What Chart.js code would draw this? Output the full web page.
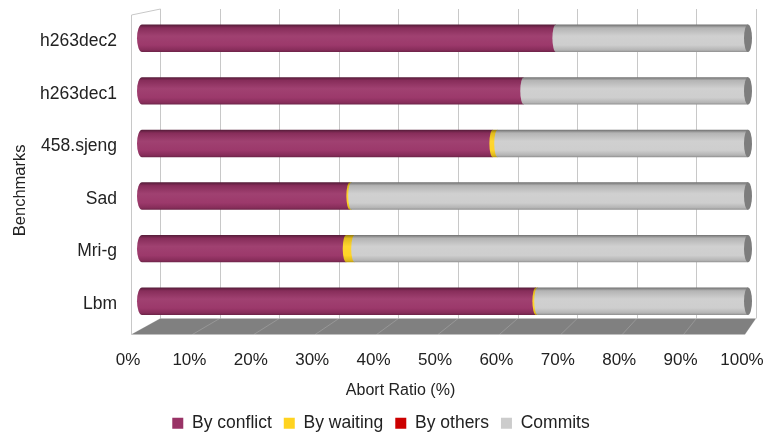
<!DOCTYPE html>
<html>
<head>
<meta charset="utf-8">
<script src="https://cdn.jsdelivr.net/npm/chart.js@4/dist/chart.umd.min.js"></script>
<style>
  html, body { margin: 0; padding: 0; background: #fff; }
  #wrap { width: 767px; height: 432px; }
</style>
</head>
<body>
<div id="wrap"><canvas id="chart"></canvas></div>
<script>
// Benchmarks, top to bottom
const benchmarks = ['h263dec2', 'h263dec1', '458.sjeng', 'Sad', 'Mri-g', 'Lbm'];

// Share of transactions per outcome (%)
const byConflict = [68.3, 63.0, 57.9, 34.3, 33.7, 65.0];
const byWaiting  = [0.0, 0.0, 0.8, 0.3, 1.4, 0.3];
const byOthers   = [0.0, 0.0, 0.0, 0.0, 0.0, 0.0];
const commits    = [31.7, 37.0, 41.3, 65.4, 64.9, 34.7];

const percentTicks = [0, 10, 20, 30, 40, 50, 60, 70, 80, 90, 100];

const FONT = "'Liberation Sans', Arial, sans-serif";

// lighten (f > 0) or darken (f < 0) a hex colour
function shade(hex, f) {
    const n = parseInt(hex.slice(1), 16);
    let c = [(n >> 16) & 255, (n >> 8) & 255, n & 255];
    c = c.map(v => f < 0 ? Math.round(v * (1 + f)) : Math.round(v + (255 - v) * f));
    return `rgb(${c[0]},${c[1]},${c[2]})`;
}

// 3D box (back wall, left wall, floor) and cylinder bars
const cylinderPlugin = {
    id: 'cylinders',
    beforeDatasetsDraw(chart) {
        const ctx = chart.ctx;
        const ca = chart.chartArea;
        const frontY = ca.bottom + 7, backY = ca.bottom - 9;
        const frontL = ca.left + 3, frontR = ca.right - 17;
        const backL = ca.left + 32, backR = ca.right - 6;
        const front = v => frontL + (frontR - frontL) * v / 100;
        const back = v => backL + (backR - backL) * v / 100;

        ctx.save();
        // back wall grid
        ctx.strokeStyle = '#c8c8c8';
        ctx.lineWidth = 1;
        percentTicks.forEach(v => {
            const x = Math.round(back(v)) + 0.5;
            ctx.beginPath();
            ctx.moveTo(x, ca.top - 3);
            ctx.lineTo(x, backY);
            ctx.stroke();
        });
        // left wall
        ctx.beginPath();
        ctx.moveTo(frontL + 0.5, frontY);
        ctx.lineTo(frontL + 0.5, ca.top + 3);
        ctx.lineTo(backL + 0.5, ca.top - 3);
        ctx.stroke();

        // floor
        ctx.fillStyle = '#808080';
        ctx.beginPath();
        ctx.moveTo(frontL, frontY);
        ctx.lineTo(backL, backY);
        ctx.lineTo(backR, backY);
        ctx.lineTo(frontR, frontY);
        ctx.closePath();
        ctx.fill();
        ctx.strokeStyle = 'rgba(255,255,255,0.18)';
        percentTicks.forEach(v => {
            ctx.beginPath();
            ctx.moveTo(front(v), frontY);
            ctx.lineTo(back(v), backY);
            ctx.stroke();
        });

        // cylinders
        const metas = chart.data.datasets.map((d, i) => chart.getDatasetMeta(i));
        benchmarks.forEach((b, j) => {
            let last = null;
            metas.forEach((meta, i) => {
                const el = meta.data[j];
                const p = el.getProps(['x', 'y', 'base', 'height'], true);
                const left = Math.min(p.x, p.base), right = Math.max(p.x, p.base);
                if (right - left < 0.4) return;
                const ry = p.height / 2, top = p.y - ry;
                const rx = i === 0 ? 5 : 3.5;
                const col = chart.data.datasets[i].backgroundColor;
                const g = ctx.createLinearGradient(0, top, 0, top + p.height);
                g.addColorStop(0, shade(col, -0.45));
                g.addColorStop(0.12, shade(col, -0.12));
                g.addColorStop(0.42, shade(col, 0.07));
                g.addColorStop(0.75, shade(col, 0.03));
                g.addColorStop(0.93, shade(col, -0.12));
                g.addColorStop(1, shade(col, -0.3));
                ctx.fillStyle = g;
                ctx.beginPath();
                ctx.moveTo(right, top);
                ctx.lineTo(left, top);
                ctx.ellipse(left, p.y, rx, ry, 0, -Math.PI / 2, Math.PI / 2, true);
                ctx.lineTo(right, top + p.height);
                ctx.closePath();
                ctx.fill();
                last = { right, y: p.y, ry };
            });
            if (last) {
                // end face of the cylinder
                ctx.fillStyle = '#7d7d7d';
                ctx.beginPath();
                ctx.ellipse(last.right, last.y, 4, last.ry, 0, 0, Math.PI * 2);
                ctx.fill();
            }
        });
        ctx.restore();
        return false;
    }
};

const ctx = document.getElementById('chart');
new Chart(ctx, {
    type: 'bar',
    data: {
        labels: benchmarks,
        datasets: [
            { label: 'By conflict', data: byConflict, backgroundColor: '#993366', borderWidth: 0 },
            { label: 'By waiting', data: byWaiting, backgroundColor: '#ffd320', borderWidth: 0 },
            { label: 'By others', data: byOthers, backgroundColor: '#cc0000', borderWidth: 0 },
            { label: 'Commits', data: commits, backgroundColor: '#cccccc', borderWidth: 0 }
        ]
    },
    options: {
        indexAxis: 'y',
        responsive: true,
        maintainAspectRatio: false,
        animation: false,
        categoryPercentage: 1,
        barPercentage: 0.52,
        layout: { padding: { top: 12, right: 5, left: 0, bottom: -10 } },
        scales: {
            x: {
                stacked: true,
                display: false,
                min: -2.31,
                max: 102.31
            },
            x2: {
                type: 'linear',
                position: 'bottom',
                min: 0,
                max: 103.26,
                grid: { display: false, drawTicks: false },
                border: { display: false },
                afterBuildTicks: scale => { scale.ticks = percentTicks.map(v => ({ value: v })); },
                afterFit: scale => {
                    scale.height = 75;
                    scale.paddingLeft = 0;
                    scale.paddingRight = 0;
                },
                ticks: {
                    padding: 23,
                    color: '#222',
                    font: { family: FONT, size: 17 },
                    callback: v => v + '%'
                },
                title: {
                    display: true,
                    // trailing blanks move the title left of the axis centre
                    text: 'Abort Ratio (%)                    ',
                    color: '#222',
                    font: { family: FONT, size: 16 },
                    padding: { top: 6, bottom: 2 }
                }
            },
            y: {
                stacked: true,
                grid: { display: false, drawTicks: false },
                border: { display: false },
                afterFit: scale => {
                    scale.width = 128;
                    scale.paddingTop = 0;
                    scale.paddingBottom = 0;
                },
                ticks: {
                    padding: 11,
                    labelOffset: 3,
                    color: '#222',
                    font: { family: FONT, size: 17.5 }
                },
                title: {
                    display: true,
                    // trailing blanks push the rotated title a little lower
                    text: 'Benchmarks         ',
                    color: '#222',
                    font: { family: FONT, size: 16.5 },
                    padding: { top: 11, bottom: 0 }
                }
            }
        },
        plugins: {
            legend: {
                position: 'bottom',
                labels: {
                    boxWidth: 11,
                    boxHeight: 11,
                    padding: 12,
                    color: '#222',
                    font: { family: FONT, size: 17.5 }
                }
            },
            tooltip: { enabled: false }
        }
    },
    plugins: [cylinderPlugin]
});
</script>
</body>
</html>
